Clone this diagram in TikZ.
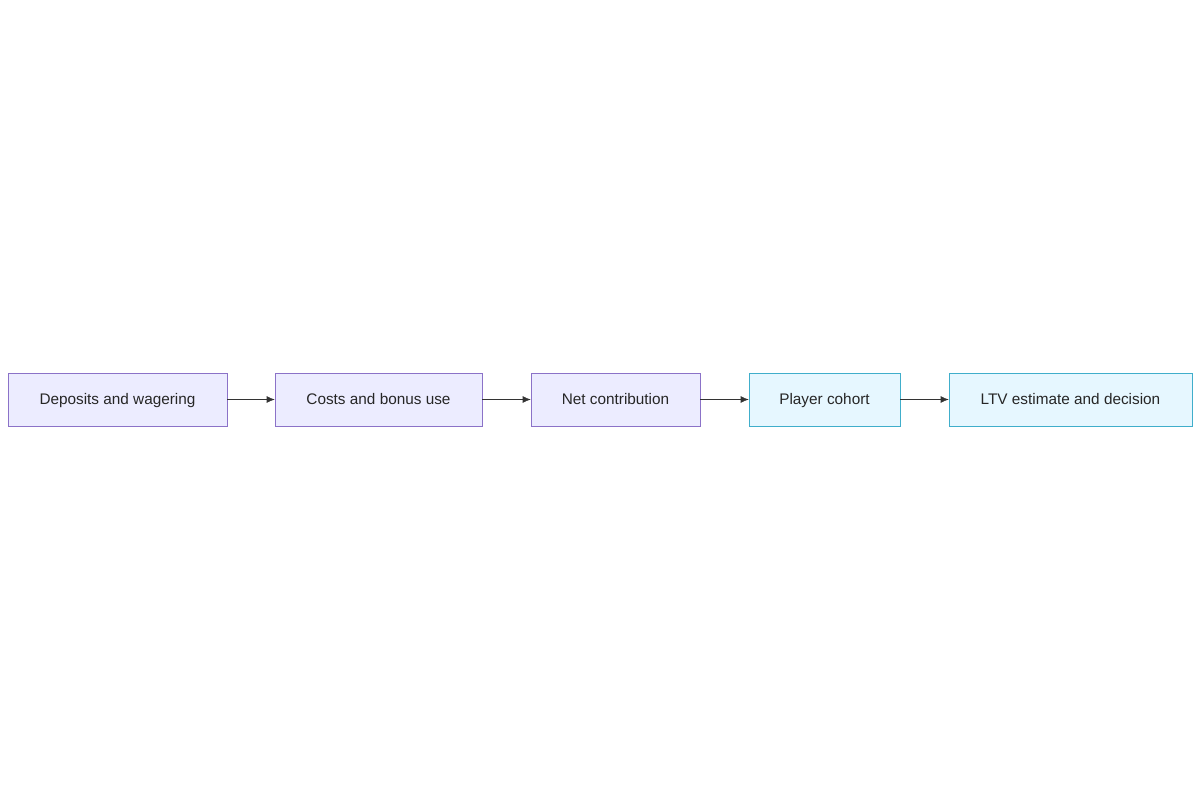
\documentclass[tikz,border=0pt]{standalone}
\usepackage{fontspec}
\setmainfont{Liberation Sans}
\usetikzlibrary{arrows.meta}
\definecolor{stepfill}{HTML}{ECECFF}
\definecolor{stepdraw}{HTML}{8B72C8}
\definecolor{cohfill}{HTML}{E6F7FF}
\definecolor{cohdraw}{HTML}{40AECB}
\definecolor{linkcol}{HTML}{333333}
\tikzset{
	flowstep/.style={draw=stepdraw, fill=stepfill, minimum height=53*0.75pt, inner sep=0pt, text height=9.5pt, text depth=2pt, font=\fontsize{11.5}{14}\selectfont, text=black!85},
	cohort/.style={flowstep, draw=cohdraw, fill=cohfill},
	link/.style={draw=linkcol, -{Latex[length=6pt,width=5pt]}}
}
\begin{document}
\begin{tikzpicture}[x=0.75pt, y=-0.75pt]
	\useasboundingbox (0,0) rectangle (1200,800);
	% Schritte
	\node[flowstep, minimum width=219*0.75pt] (deposits) at (117.5,399.5) {Deposits and wagering};
	\node[flowstep, minimum width=207*0.75pt] (costs) at (378.5,399.5) {Costs and bonus use};
	\node[flowstep, minimum width=169*0.75pt] (net) at (615.5,399.5) {Net contribution};
	\node[cohort, minimum width=151*0.75pt] (cohort) at (824.5,399.5) {Player cohort};
	\node[cohort, minimum width=243*0.75pt] (ltv) at (1070.5,399.5) {LTV estimate and decision};
	% Verbindungen
	\draw[link] (deposits) -- (costs);
	\draw[link] (costs) -- (net);
	\draw[link] (net) -- (cohort);
	\draw[link] (cohort) -- (ltv);
\end{tikzpicture}
\end{document}
